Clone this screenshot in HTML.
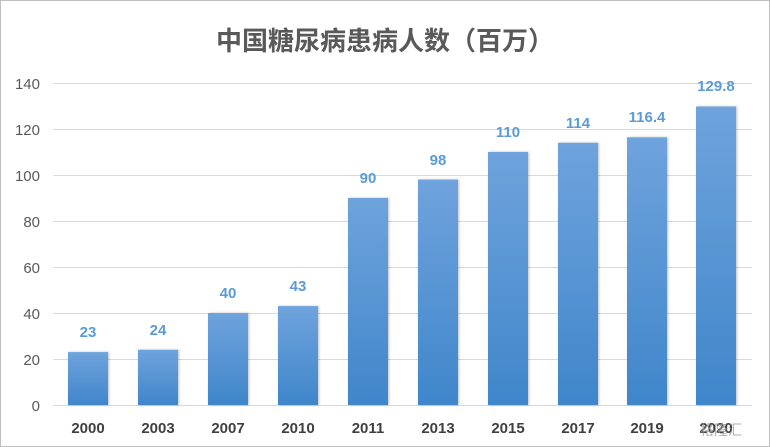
<!DOCTYPE html>
<html><head><meta charset="utf-8"><style>
body{margin:0;background:#fff}
svg{display:block}
text{font-family:"Liberation Sans","Noto Sans CJK SC",sans-serif}
</style></head><body>
<svg width="770" height="447" viewBox="0 0 770 447">
<defs><linearGradient id="g" x1="0" y1="0" x2="0" y2="1"><stop offset="0" stop-color="#6fa3dc"/><stop offset="1" stop-color="#3f86cb"/></linearGradient>
<filter id="s" x="-20%" y="-5%" width="140%" height="110%"><feDropShadow dx="1" dy="0" stdDeviation="1.2" flood-color="#000" flood-opacity="0.25"/></filter></defs>
<rect x="0.5" y="0.5" width="769" height="446" fill="#fff" stroke="#bfbfbf"/>
<text x="385" y="50" text-anchor="middle" font-size="26" font-weight="bold" fill="#595959">中国糖尿病患病人数（百万）</text>
<g stroke="#d9d9d9" stroke-width="1">
<line x1="53" x2="752" y1="83.5" y2="83.5"/><line x1="53" x2="752" y1="129.5" y2="129.5"/><line x1="53" x2="752" y1="175.5" y2="175.5"/><line x1="53" x2="752" y1="221.5" y2="221.5"/><line x1="53" x2="752" y1="267.5" y2="267.5"/><line x1="53" x2="752" y1="313.5" y2="313.5"/><line x1="53" x2="752" y1="359.5" y2="359.5"/><line x1="53" x2="752" y1="405.5" y2="405.5"/></g>
<g font-size="15" fill="#595959" text-anchor="end">
<text x="40" y="89">140</text><text x="40" y="135">120</text><text x="40" y="181">100</text><text x="40" y="227">80</text><text x="40" y="273">60</text><text x="40" y="319">40</text><text x="40" y="365">20</text><text x="40" y="411">0</text></g>
<g fill="url(#g)" filter="url(#s)">
<rect x="68" y="352.1" width="40" height="52.9"/>
<rect x="138" y="349.8" width="40" height="55.2"/>
<rect x="208" y="313" width="40" height="92"/>
<rect x="278" y="306.1" width="40" height="98.9"/>
<rect x="348" y="198" width="40" height="207"/>
<rect x="418" y="179.6" width="40" height="225.4"/>
<rect x="488" y="152" width="40" height="253"/>
<rect x="558" y="142.8" width="40" height="262.2"/>
<rect x="627" y="137.3" width="40" height="267.7"/>
<rect x="696" y="106.5" width="40" height="298.5"/>
</g>
<g font-size="15" font-weight="bold" fill="#5b9bd5" text-anchor="middle">
<text x="88" y="337">23</text><text x="158" y="335">24</text><text x="228" y="298">40</text><text x="298" y="291">43</text><text x="368" y="183">90</text><text x="438" y="165">98</text><text x="508" y="137">110</text><text x="578" y="128">114</text><text x="647" y="122">116.4</text><text x="716" y="91">129.8</text></g>
<g font-size="15" font-weight="bold" fill="#404040" text-anchor="middle">
<text x="88" y="433">2000</text><text x="158" y="433">2003</text><text x="228" y="433">2007</text><text x="298" y="433">2010</text><text x="368" y="433">2011</text><text x="438" y="433">2013</text><text x="508" y="433">2015</text><text x="578" y="433">2017</text><text x="647" y="433">2019</text><text x="716" y="433">2020</text></g>
<text x="700" y="435" font-size="14" fill="#999" opacity="0.8">格隆汇</text>
</svg>
</body></html>
